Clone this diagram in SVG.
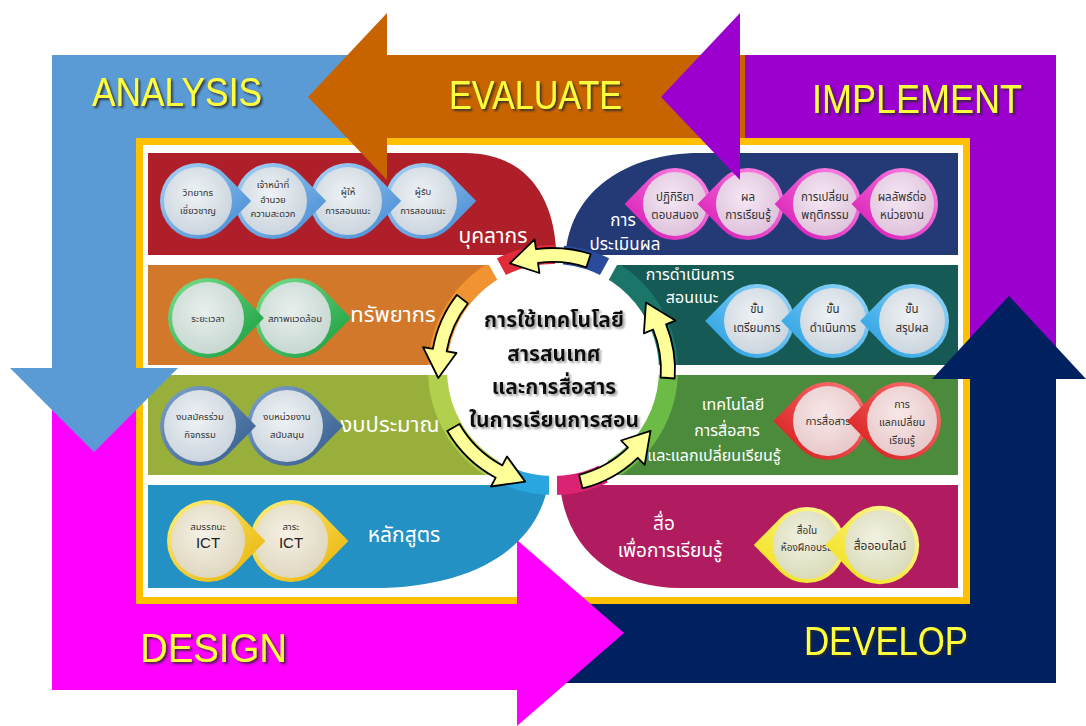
<svg xmlns="http://www.w3.org/2000/svg" xmlns:xlink="http://www.w3.org/1999/xlink" width="1086" height="726" viewBox="0 0 1086 726">
<defs>
<style>
.big{font-family:"Liberation Sans",Arial,sans-serif;font-size:40px;fill:#ffff3c;filter:url(#sh)}
.lbl{font-family:"Noto Sans Thai","Noto Sans","DejaVu Sans",sans-serif;fill:#ffffff;text-anchor:middle}
.bt{font-family:"Noto Sans Thai","Noto Sans","DejaVu Sans",sans-serif;fill:#333;text-anchor:middle;font-size:9.5px}
.bm{font-size:11.5px}
.ctr{font-family:"Noto Sans Thai","Noto Sans","DejaVu Sans",sans-serif;font-weight:bold;font-size:21px;fill:#111;text-anchor:middle;filter:url(#sh2)}
.yarr{fill:#ffff99;stroke:#000;stroke-width:1.8;stroke-linejoin:round}
.gap{fill:none;stroke:#fff;stroke-width:10}
.tBlue{fill:url(#gTipBlue)}
.tGreen{fill:url(#gTipGreen)}
.tSlate{fill:url(#gTipSlate)}
.tGold{fill:url(#gTipGold)}
.tPink{fill:url(#gTipPink)}
.tSky{fill:url(#gTipSky)}
.tRed{fill:url(#gTipRed)}
.tYel{fill:url(#gTipYel)}
.fGrey{fill:url(#gFGrey)}
.fGreen{fill:url(#gFGreen)}
.fCream{fill:url(#gFCream)}
.fPink{fill:url(#gFPink)}
.fRose{fill:url(#gFRose)}
.fLemon{fill:url(#gFLemon)}
</style>
<filter id="sh" x="-10%" y="-20%" width="130%" height="150%"><feDropShadow dx="2" dy="2" stdDeviation="1" flood-color="#2a2a2a" flood-opacity="0.85"/></filter>
<filter id="sh2" x="-10%" y="-20%" width="130%" height="150%"><feDropShadow dx="2" dy="2" stdDeviation="1.2" flood-color="#888" flood-opacity="0.8"/></filter>
<linearGradient id="gTipBlue" x1="0" y1="0" x2="1" y2="1"><stop offset="0" stop-color="#a8d4f5"/><stop offset="1" stop-color="#3f86d2"/></linearGradient>
<linearGradient id="gTipGreen" x1="0" y1="0" x2="1" y2="1"><stop offset="0" stop-color="#7be08f"/><stop offset="1" stop-color="#129a3a"/></linearGradient>
<linearGradient id="gTipSlate" x1="0" y1="0" x2="1" y2="1"><stop offset="0" stop-color="#7fa2c8"/><stop offset="1" stop-color="#30588a"/></linearGradient>
<linearGradient id="gTipGold" x1="0" y1="0" x2="1" y2="1"><stop offset="0" stop-color="#fff07a"/><stop offset="1" stop-color="#e8b000"/></linearGradient>
<linearGradient id="gTipPink" x1="0" y1="0" x2="1" y2="1"><stop offset="0" stop-color="#ff8ee8"/><stop offset="1" stop-color="#d410b0"/></linearGradient>
<linearGradient id="gTipSky" x1="0" y1="0" x2="1" y2="1"><stop offset="0" stop-color="#9ad8fa"/><stop offset="1" stop-color="#1d9be0"/></linearGradient>
<linearGradient id="gTipRed" x1="0" y1="0" x2="1" y2="1"><stop offset="0" stop-color="#ff7a7a"/><stop offset="1" stop-color="#d41414"/></linearGradient>
<linearGradient id="gTipYel" x1="0" y1="0" x2="1" y2="1"><stop offset="0" stop-color="#fffaa0"/><stop offset="1" stop-color="#f0de10"/></linearGradient>
<radialGradient id="gFGrey" cx="0.45" cy="0.4" r="0.65"><stop offset="0" stop-color="#eef2f5"/><stop offset="1" stop-color="#c9d3dc"/></radialGradient>
<radialGradient id="gFGreen" cx="0.45" cy="0.4" r="0.65"><stop offset="0" stop-color="#e8efec"/><stop offset="1" stop-color="#c5d6cf"/></radialGradient>
<radialGradient id="gFCream" cx="0.45" cy="0.4" r="0.65"><stop offset="0" stop-color="#f5f1e5"/><stop offset="1" stop-color="#ddd5bd"/></radialGradient>
<radialGradient id="gFPink" cx="0.45" cy="0.4" r="0.65"><stop offset="0" stop-color="#f6e8f4"/><stop offset="1" stop-color="#dcc0da"/></radialGradient>
<radialGradient id="gFRose" cx="0.45" cy="0.4" r="0.65"><stop offset="0" stop-color="#f8e8e8"/><stop offset="1" stop-color="#e6c6c8"/></radialGradient>
<radialGradient id="gFLemon" cx="0.45" cy="0.4" r="0.65"><stop offset="0" stop-color="#f2f2e2"/><stop offset="1" stop-color="#d9d9b8"/></radialGradient>
<path id="drop" d="M56,0 L28.57,-28 A40,40 0 1 0 28.57,28 Z"/>
</defs>

<rect width="1086" height="726" fill="#ffffff"/>

<g id="phase-bodies">
  <rect x="52" y="55" width="350" height="313" fill="#5b9bd5"/>
  <rect x="52" y="368" width="470" height="322" fill="#ff00ff"/>
  <rect x="520" y="379" width="536" height="304" fill="#002060"/>
  <rect x="700" y="55" width="356" height="324" fill="#9b00cf"/>
  <rect x="385" y="55" width="360" height="83" fill="#c86400"/>
</g>

<rect id="panel" x="139.5" y="141.5" width="827" height="459" fill="#ffffff" stroke="#ffc000" stroke-width="7"/>

<g id="bands">
  <path id="band-personnel" d="M148,153 H465 C522,153 553,192 556,250 V255 H148 Z" fill="#ae1f2a"/>
  <rect id="band-resources" x="148" y="265" width="405" height="100" fill="#d2782b"/>
  <rect id="band-budget" x="148" y="375" width="405" height="100" fill="#98b03b"/>
  <path id="band-curriculum" d="M148,485 H548 C536,550 470,588 373,588 H148 Z" fill="#2391c3"/>
  <path id="band-evaluation" d="M958,153 H700 C625,153 572,192 566,250 V255 H958 Z" fill="#243a77"/>
  <rect id="band-coaching" x="553" y="265" width="405" height="100" fill="#155a55"/>
  <rect id="band-ict" x="553" y="375" width="405" height="100" fill="#4b8b3b"/>
  <path id="band-media" d="M958,485 H560 C566,548 612,588 680,588 H958 Z" fill="#b11c60"/>
</g>

<g id="ring">
  <path d="M553,370 L492.4,260.7 A125,125 0 0 1 559.5,245.2 Z" fill="#e12b3a"/>
  <path d="M553,370 L559.5,245.2 A125,125 0 0 1 613.6,260.7 Z" fill="#2a4b9b"/>
  <path d="M553,370 L613.6,260.7 A125,125 0 0 1 678,370 Z" fill="#1b7569"/>
  <path d="M553,370 L678,370 A125,125 0 0 1 611.7,480.4 Z" fill="#6cbb47"/>
  <path d="M553,370 L611.7,480.4 A125,125 0 0 1 553,495 Z" fill="#dc2273"/>
  <path d="M553,370 L553,495 A125,125 0 0 1 494.3,480.4 Z" fill="#29a6dd"/>
  <path d="M553,370 L494.3,480.4 A125,125 0 0 1 428,370 Z" fill="#b2cf4e"/>
  <path d="M553,370 L428,370 A125,125 0 0 1 492.4,260.7 Z" fill="#f29331"/>
  <path class="gap" d="M143,260 L492,260 L553,370"/>
  <path class="gap" d="M143,370 L553,370"/>
  <path class="gap" d="M143,480 L494,480 L553,370"/>
  <path class="gap" d="M963,260 L614,260 L553,370"/>
  <path class="gap" d="M963,370 L553,370"/>
  <path class="gap" d="M963,480 L612,480 L553,370"/>
  <path class="gap" style="stroke-width:8" d="M561,228 L553,370"/>
  <path class="gap" style="stroke-width:8" d="M553,512 L553,370"/>
  <circle cx="553" cy="370" r="106" fill="#ffffff"/>
</g>

<g id="band-labels">
  <text class="lbl" x="493" y="243" font-size="21">บุคลากร</text>
  <text class="lbl" x="393" y="322" font-size="22">ทรัพยากร</text>
  <text class="lbl" x="390" y="432" font-size="22">งบประมาณ</text>
  <text class="lbl" x="404" y="542" font-size="21">หลักสูตร</text>
  <text class="lbl" x="623" y="226" font-size="17">การ</text>
  <text class="lbl" x="625" y="250" font-size="17">ประเมินผล</text>
  <text class="lbl" x="690" y="280" font-size="16">การดำเนินการ</text>
  <text class="lbl" x="692" y="303" font-size="16">สอนแนะ</text>
  <text class="lbl" x="733" y="410" font-size="16">เทคโนโลยี</text>
  <text class="lbl" x="727" y="436" font-size="16">การสื่อสาร</text>
  <text class="lbl" x="714" y="461" font-size="16">และแลกเปลี่ยนเรียนรู้</text>
  <text class="lbl" x="664" y="530" font-size="19">สื่อ</text>
  <text class="lbl" x="670" y="557" font-size="19">เพื่อการเรียนรู้</text>
</g>

<g id="n-receiver"><use href="#drop" class="tBlue" transform="translate(423,201) scale(0.95)"/><circle class="fGrey" cx="423" cy="201" r="34"/><text class="bt" x="423" y="195">ผู้รับ</text><text class="bt" x="423" y="214">การสอนแนะ</text></g>
<g id="n-giver"><use href="#drop" class="tBlue" transform="translate(348,201) scale(0.95)"/><circle class="fGrey" cx="348" cy="201" r="34"/><text class="bt" x="348" y="195">ผู้ให้</text><text class="bt" x="348" y="214">การสอนแนะ</text></g>
<g id="n-staff"><use href="#drop" class="tBlue" transform="translate(273,201) scale(0.95)"/><circle class="fGrey" cx="273" cy="201" r="34"/><text class="bt" x="273" y="188">เจ้าหน้าที่</text><text class="bt" x="273" y="203">อำนวย</text><text class="bt" x="273" y="217">ความสะดวก</text></g>
<g id="n-expert"><use href="#drop" class="tBlue" transform="translate(198,201) scale(0.95)"/><circle class="fGrey" cx="198" cy="201" r="34"/><text class="bt" x="198" y="196">วิทยากร</text><text class="bt" x="198" y="214">เชี่ยวชาญ</text></g>

<g id="n-environment"><use href="#drop" class="tGreen" transform="translate(295,318)"/><circle class="fGreen" cx="295" cy="318" r="36"/><text class="bt" x="295" y="322">สภาพแวดล้อม</text></g>
<g id="n-time"><use href="#drop" class="tGreen" transform="translate(208,318)"/><circle class="fGreen" cx="208" cy="318" r="36"/><text class="bt" x="208" y="322">ระยะเวลา</text></g>

<g id="n-agency-budget"><use href="#drop" class="tSlate" transform="translate(287,426)"/><circle class="fGrey" cx="287" cy="426" r="36"/><text class="bt" x="287" y="420">งบหน่วยงาน</text><text class="bt" x="287" y="438">สนับสนุน</text></g>
<g id="n-joint-budget"><use href="#drop" class="tSlate" transform="translate(200,426)"/><circle class="fGrey" cx="200" cy="426" r="36"/><text class="bt" x="200" y="420">งบสมัครร่วม</text><text class="bt" x="200" y="438">กิจกรรม</text></g>

<g id="n-ict-content"><use href="#drop" class="tGold" transform="translate(291,541) scale(1.025)"/><circle class="fCream" cx="291" cy="541" r="37"/><text class="bt" x="291" y="530">สาระ</text><text class="bt" x="291" y="548" style="font-size:15px;fill:#222;font-family:'Liberation Sans',sans-serif">ICT</text></g>
<g id="n-ict-competency"><use href="#drop" class="tGold" transform="translate(208,541) scale(1.025)"/><circle class="fCream" cx="208" cy="541" r="37"/><text class="bt" x="208" y="530">สมรรถนะ</text><text class="bt" x="208" y="548" style="font-size:15px;fill:#222;font-family:'Liberation Sans',sans-serif">ICT</text></g>

<g id="n-reaction"><use href="#drop" class="tPink" transform="translate(675,204) scale(-0.9,0.9)"/><circle class="fPink" cx="675" cy="204" r="32"/><text class="bt bm" x="675" y="201">ปฏิกิริยา</text><text class="bt bm" x="675" y="219">ตอบสนอง</text></g>
<g id="n-learning"><use href="#drop" class="tPink" transform="translate(748,204) scale(-0.9,0.9)"/><circle class="fPink" cx="748" cy="204" r="32"/><text class="bt bm" x="748" y="201">ผล</text><text class="bt bm" x="748" y="219">การเรียนรู้</text></g>
<g id="n-behavior"><use href="#drop" class="tPink" transform="translate(825,204) scale(-0.9,0.9)"/><circle class="fPink" cx="825" cy="204" r="32"/><text class="bt bm" x="825" y="201">การเปลี่ยน</text><text class="bt bm" x="825" y="219">พฤติกรรม</text></g>
<g id="n-results"><use href="#drop" class="tPink" transform="translate(902,204) scale(-0.9,0.9)"/><circle class="fPink" cx="902" cy="204" r="32"/><text class="bt bm" x="902" y="201">ผลลัพธ์ต่อ</text><text class="bt bm" x="902" y="219">หน่วยงาน</text></g>

<g id="n-prepare"><use href="#drop" class="tSky" transform="translate(757,321) scale(-0.925,0.925)"/><circle class="fGrey" cx="757" cy="321" r="33"/><text class="bt bm" x="757" y="313">ขั้น</text><text class="bt bm" x="757" y="332">เตรียมการ</text></g>
<g id="n-conduct"><use href="#drop" class="tSky" transform="translate(833,321) scale(-0.925,0.925)"/><circle class="fGrey" cx="833" cy="321" r="33"/><text class="bt bm" x="833" y="313">ขั้น</text><text class="bt bm" x="833" y="332">ดำเนินการ</text></g>
<g id="n-conclude"><use href="#drop" class="tSky" transform="translate(912,321) scale(-0.925,0.925)"/><circle class="fGrey" cx="912" cy="321" r="33"/><text class="bt bm" x="912" y="313">ขั้น</text><text class="bt bm" x="912" y="332">สรุปผล</text></g>

<g id="n-communication"><use href="#drop" class="tRed" transform="translate(828,421) scale(-0.975,0.975)"/><circle class="fRose" cx="828" cy="421" r="35"/><text class="bt" x="828" y="425" style="font-size:11px">การสื่อสาร</text></g>
<g id="n-exchange"><use href="#drop" class="tRed" transform="translate(902,421) scale(-0.975,0.975)"/><circle class="fRose" cx="902" cy="421" r="35"/><text class="bt" x="902" y="408" style="font-size:10.5px">การ</text><text class="bt" x="902" y="426" style="font-size:10.5px">แลกเปลี่ยน</text><text class="bt" x="902" y="444" style="font-size:10.5px">เรียนรู้</text></g>

<g id="n-classroom-media"><use href="#drop" class="tYel" transform="translate(807,545) scale(-0.95,0.95)"/><circle class="fLemon" cx="807" cy="545" r="34"/><text class="bt" x="807" y="534" style="font-size:10px">สื่อใน</text><text class="bt" x="807" y="551" style="font-size:10px">ห้องฝึกอบรม</text></g>
<g id="n-online-media"><use href="#drop" class="tYel" transform="translate(880,545) scale(-0.98,0.98)"/><circle class="fLemon" cx="880" cy="545" r="35"/><text class="bt" x="880" y="550" style="font-size:12px">สื่อออนไลน์</text></g>

<g id="connectors">
  <path class="yarr" d="M590.7,254.0 A122,122 0 0 0 536.0,249.2 L534.6,239.3 L509.9,263.4 L539.4,273.0 L538.0,263.0 A108,108 0 0 1 586.4,267.3 Z"/>
  <path class="yarr" d="M456.9,294.9 A122,122 0 0 0 432.9,348.8 L423.0,347.1 L438.3,378.0 L456.5,353.0 L446.6,351.3 A108,108 0 0 1 467.9,303.5 Z"/>
  <path class="yarr" d="M447.3,431.0 A122,122 0 0 0 495.7,477.7 L491.0,486.5 L525.2,481.6 L507.0,456.5 L502.3,465.4 A108,108 0 0 1 459.5,424.0 Z"/>
  <path class="yarr" d="M582.5,488.4 A122,122 0 0 0 637.8,457.8 L644.7,464.9 L650.5,430.9 L621.1,440.5 L628.0,447.7 A108,108 0 0 1 579.1,474.8 Z"/>
  <path class="yarr" d="M674.7,378.5 A122,122 0 0 0 666.1,324.3 L675.4,320.6 L646.0,302.4 L643.9,333.3 L653.1,329.5 A108,108 0 0 1 660.7,377.5 Z"/>
</g>

<g id="center">
  <text class="ctr" x="554" y="327">การใช้เทคโนโลยี</text>
  <text class="ctr" x="554" y="361">สารสนเทศ</text>
  <text class="ctr" x="554" y="394">และการสื่อสาร</text>
  <text class="ctr" x="554" y="427">ในการเรียนการสอน</text>
</g>

<g id="phase-heads">
  <polygon points="387,13 308,97 387,180" fill="#c86400"/>
  <polygon points="740,13 661,97 740,180" fill="#9b00cf"/>
  <polygon points="10,368 178,368 94,452" fill="#5b9bd5"/>
  <polygon points="932,379 1086,379 1009,296" fill="#002060"/>
  <polygon points="517,540 517,726 624,633" fill="#ff00ff"/>
</g>

<g id="phase-labels">
  <text class="big" x="92" y="106" textLength="170" lengthAdjust="spacingAndGlyphs">ANALYSIS</text>
  <text class="big" x="449" y="109" textLength="173" lengthAdjust="spacingAndGlyphs">EVALUATE</text>
  <text class="big" x="812" y="113" textLength="210" lengthAdjust="spacingAndGlyphs">IMPLEMENT</text>
  <text class="big" x="140" y="662" textLength="147" lengthAdjust="spacingAndGlyphs">DESIGN</text>
  <text class="big" x="804" y="655" textLength="164" lengthAdjust="spacingAndGlyphs">DEVELOP</text>
</g>
</svg>
